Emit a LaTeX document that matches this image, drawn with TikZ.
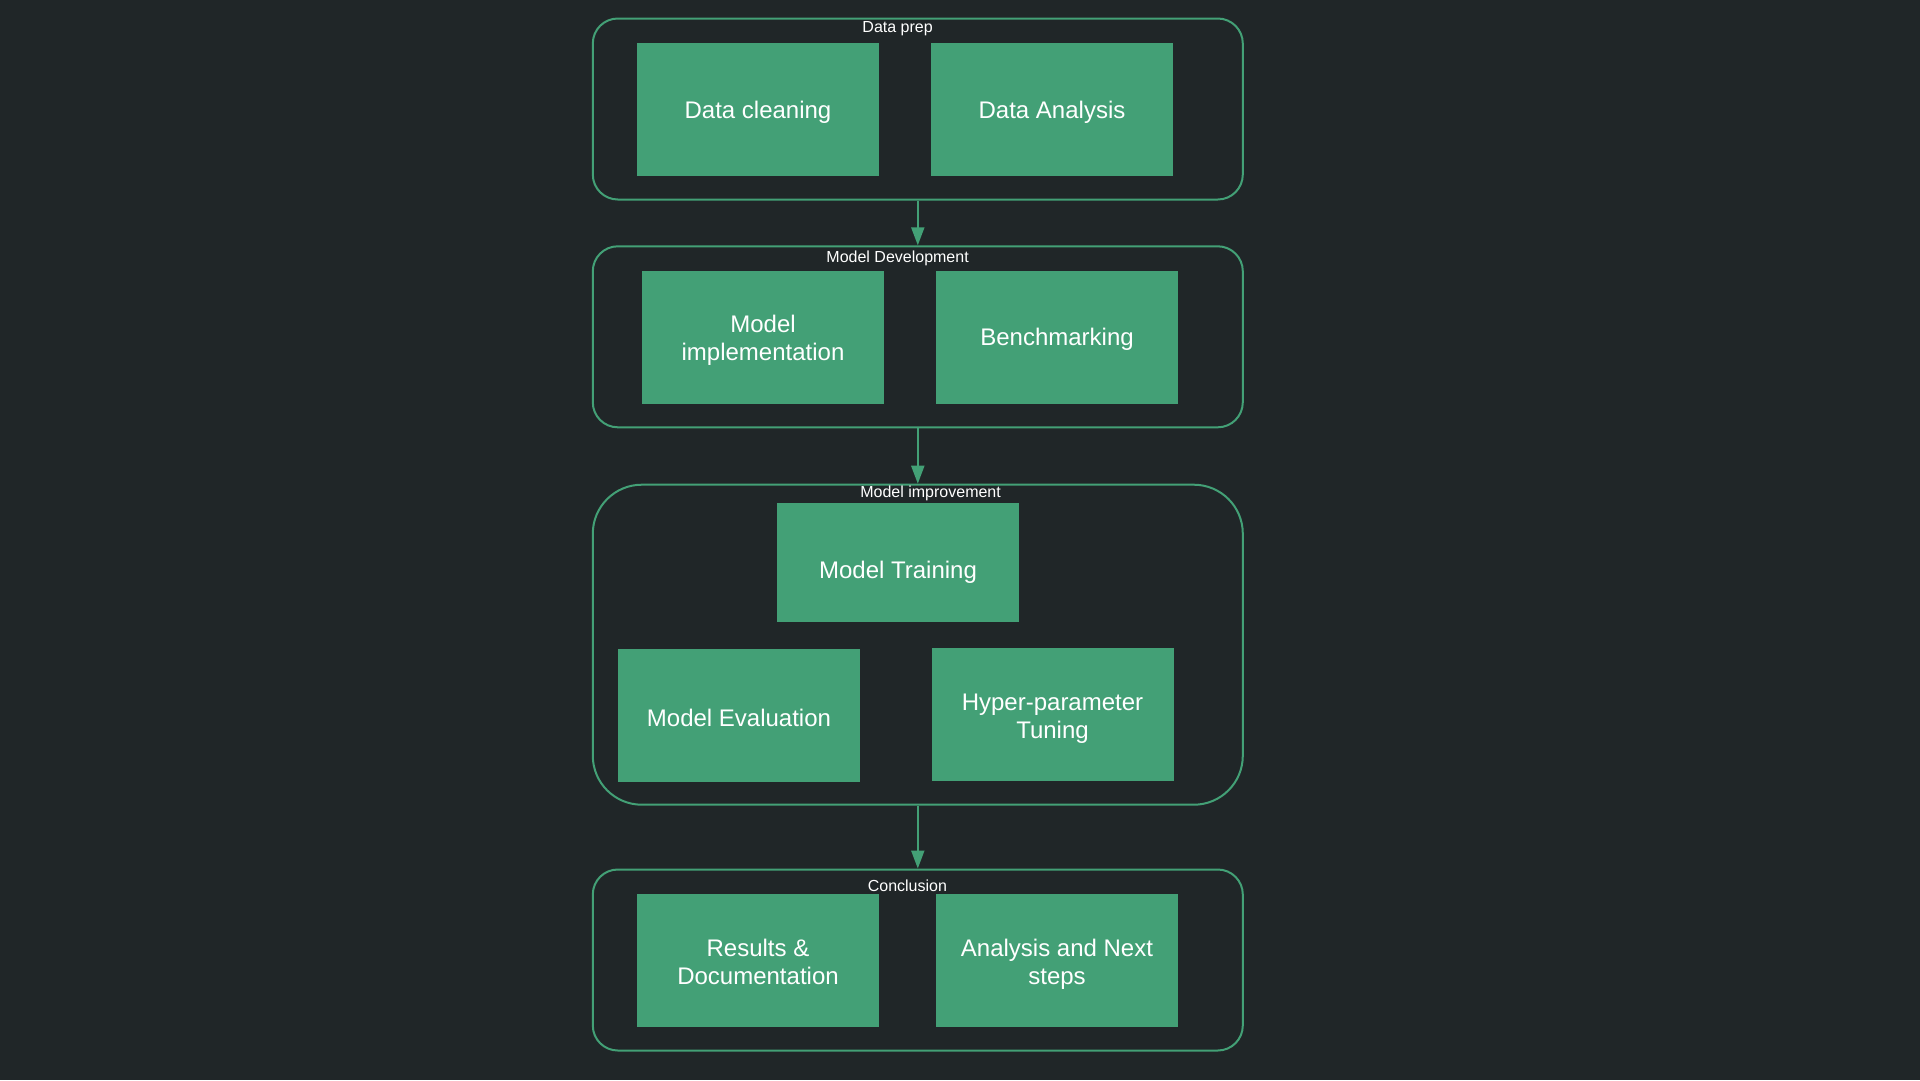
\documentclass[tikz,border=0pt]{standalone}
\usepackage{fontspec}
\setmainfont{Liberation Sans}
\usetikzlibrary{arrows.meta}
\definecolor{bgdark}{RGB}{32,38,40}
\definecolor{leaf}{RGB}{67,160,118}
\newcommand\lift[1]{\rule{0pt}{#1}}
\tikzset{
  stage/.style={draw=leaf, line width=2pt, rounded corners=25pt, minimum width=650pt, minimum height=181pt, inner sep=0pt},
  task/.style={fill=leaf, text=white, minimum width=242pt, minimum height=133pt, align=center, inner sep=0pt, font=\fontsize{24}{28}\selectfont, execute at begin node={\rule{0pt}{22pt}}},
  stagelabel/.style={text=white, inner sep=0pt, font=\fontsize{16}{18}\selectfont},
  flow/.style={draw=leaf, line width=2pt, -{Triangle[length=18pt,width=13pt]}}
}
\begin{document}
\begin{tikzpicture}[x=1pt,y=-1pt]
\fill[bgdark] (0,0) rectangle (1920,1080);
\useasboundingbox (0,0) rectangle (1920,1080);
% stages
\node[stage] (prep) at (917.8,109) {};
\node[stage] (dev) at (917.8,336.8) {};
\node[stage, minimum height=320pt, rounded corners=49pt] (impr) at (917.8,644.7) {};
\node[stage] (concl) at (917.8,960) {};
\node[stagelabel] (lprep) at (897.6,28.5) {Data prep};
\node[stagelabel] (ldev) at (897.6,258.5) {Model Development};
\node[stagelabel] (limpr) at (930.6,493.5) {Model improvement};
\node[stagelabel] (lconcl) at (907.4,885.5) {Conclusion};
% tasks
\node[task] (clean) at (758,109.6) {Data cleaning};
\node[task] (analysis) at (1052,109.6) {Data Analysis};
\node[task] (implement) at (763,337.4) {\lift{22.5pt}Model\\implementation};
\node[task] (bench) at (1057,337.4) {Benchmarking};
\node[task, minimum height=119pt, execute at begin node={\rule{0pt}{36pt}}] (train) at (898,562.6) {Model Training};
\node[task] (eval) at (739,715.7) {Model Evaluation};
\node[task] (tune) at (1052.5,714.5) {\lift{25pt}Hyper-parameter\\Tuning};
\node[task] (results) at (758,960.6) {\lift{20pt}Results \&\\Documentation};
\node[task] (next) at (1057,960.6) {\lift{25pt}Analysis and Next\\steps};
% flow
\draw[flow] (prep) -- (dev);
\draw[flow] (dev) -- (impr);
\draw[flow] (impr) -- (concl);
\end{tikzpicture}
\end{document}
